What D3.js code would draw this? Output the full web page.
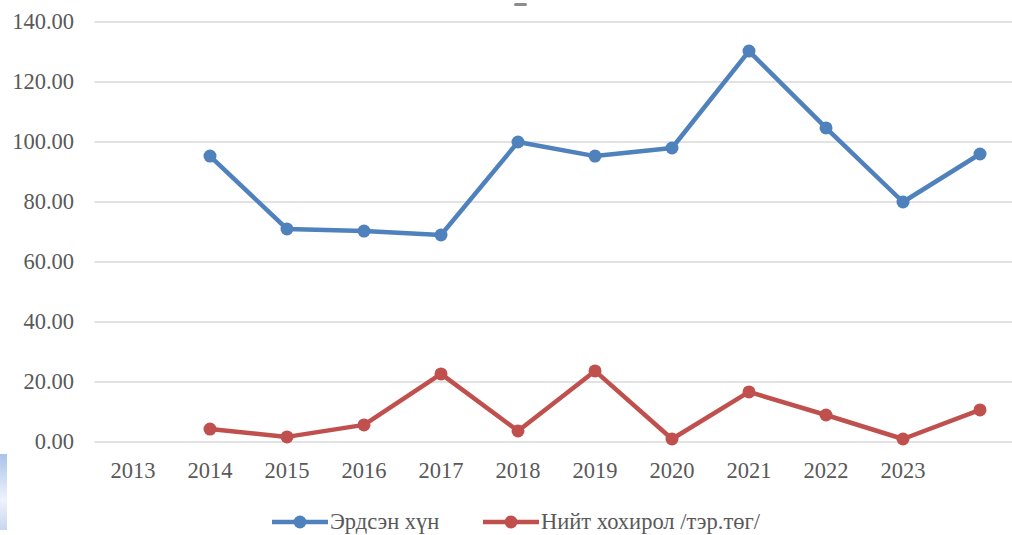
<!DOCTYPE html>
<html lang="mn">
<head>
<meta charset="UTF-8">
<title>Chart</title>
<style>
    body { margin: 0; background: #fff; }
    svg { display: block; }
    .axis text, .legend text { font-family: "Liberation Serif", "Times New Roman", serif; font-size: 22.5px; fill: #595959; }
    .axis path, .axis line { display: none; }
    .grid line { stroke: #d9d9d9; stroke-width: 1.5; }
</style>
<script src="https://d3js.org/d3.v7.min.js"></script>
</head>
<body>
<svg id="chart" width="1012" height="535"></svg>
<script>
    // categories (last slot has no label, first has no data)
    const years = ["2013", "2014", "2015", "2016", "2017", "2018", "2019", "2020", "2021", "2022", "2023", ""];
    const injured = [null, 95.3, 71.0, 70.3, 69.0, 100.0, 95.3, 98.0, 130.3, 104.7, 80.0, 96.0];
    const damage = [null, 4.3, 1.7, 5.7, 22.7, 3.7, 23.7, 1.0, 16.7, 9.0, 1.0, 10.7];
    const yTicks = [0, 20, 40, 60, 80, 100, 120, 140];
    const seriesNames = ["Эрдсэн хүн", "Нийт хохирол /тэр.төг/"];
    const colors = ["#4f81bd", "#c0504d"];

    const svg = d3.select("#chart");
    const plotLeft = 94.5, plotRight = 1018.5, plotTop = 22, plotBottom = 442;

    const x = d3.scaleBand().domain(d3.range(years.length)).range([plotLeft, plotRight]);
    const y = d3.scaleLinear().domain([0, 140]).range([plotBottom, plotTop]);

    // little bits visible in the original crop
    svg.append("rect").attr("x", 514).attr("y", 3).attr("width", 13).attr("height", 3)
        .attr("fill", "#8c8c8c").attr("rx", 1.5);
    const grad = svg.append("defs").append("linearGradient").attr("id", "side")
        .attr("x1", 0).attr("y1", 0).attr("x2", 0).attr("y2", 1);
    grad.append("stop").attr("offset", "0%").attr("stop-color", "#a9c3ea");
    grad.append("stop").attr("offset", "60%").attr("stop-color", "#eef3fb");
    grad.append("stop").attr("offset", "100%").attr("stop-color", "#c9d6ee");
    svg.append("rect").attr("x", 0).attr("y", 454).attr("width", 7).attr("height", 76).attr("fill", "url(#side)");

    // gridlines
    svg.append("g").attr("class", "grid")
        .selectAll("line").data(yTicks).enter().append("line")
        .attr("x1", plotLeft).attr("x2", plotRight)
        .attr("y1", d => y(d)).attr("y2", d => y(d));

    // y axis
    svg.append("g").attr("class", "axis")
        .attr("transform", "translate(76,-1)")
        .call(d3.axisLeft(y).tickValues(yTicks).tickFormat(d3.format(".2f")).tickSize(0).tickPadding(2));

    // x axis
    svg.append("g").attr("class", "axis")
        .attr("transform", `translate(0,${plotBottom})`)
        .call(d3.axisBottom(x).tickFormat(i => years[i]).tickSize(0).tickPadding(20));

    d3.selectAll(".axis").attr("font-family", null).attr("font-size", null);

    const cx = i => x(i) + x.bandwidth() / 2;
    const line = d3.line().defined(d => d != null).x((d, i) => cx(i)).y(d => y(d));

    [injured, damage].forEach((vals, k) => {
        svg.append("path").datum(vals)
            .attr("fill", "none").attr("stroke", colors[k]).attr("stroke-width", 4.5)
            .attr("stroke-linejoin", "round").attr("d", line);
        svg.append("g").selectAll("circle")
            .data(vals.map((v, i) => ({ v, i })).filter(d => d.v != null))
            .enter().append("circle")
            .attr("cx", d => cx(d.i)).attr("cy", d => y(d.v)).attr("r", 6.5)
            .attr("fill", colors[k]);
    });

    // legend
    const legend = svg.append("g").attr("class", "legend");
    const legendX = [272, 483];
    seriesNames.forEach((name, k) => {
        const g = legend.append("g").attr("transform", `translate(${legendX[k]},522)`);
        g.append("line").attr("x1", 0).attr("x2", 56).attr("stroke", colors[k]).attr("stroke-width", 4.5);
        g.append("circle").attr("cx", 28).attr("r", 6.5).attr("fill", colors[k]);
        g.append("text").attr("x", 58).attr("y", 7).text(name);
    });
</script>
</body>
</html>
